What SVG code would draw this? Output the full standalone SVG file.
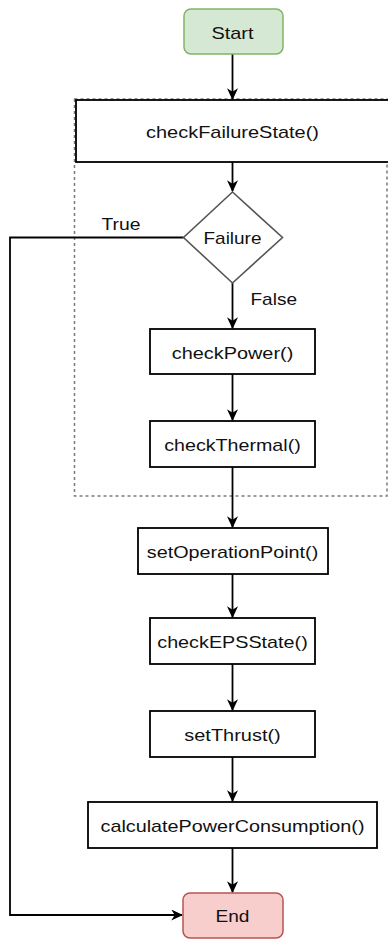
<svg xmlns="http://www.w3.org/2000/svg" width="388" height="940" viewBox="0 0 388 940">
  <style>
    .box { fill: #ffffff; stroke: #000000; stroke-width: 1.8; }
    .start { fill: #d5e8d4; stroke: #82b366; stroke-width: 1.5; }
    .end { fill: #f8cecc; stroke: #b85450; stroke-width: 1.5; }
    .dec { fill: #ffffff; stroke: #555555; stroke-width: 1.6; }
    .group { fill: none; stroke: #7a7a7a; stroke-width: 1.5; stroke-dasharray: 3 3; }
    .edge { fill: none; stroke: #000000; stroke-width: 1.8; }
    text { font-family: "Liberation Sans", Arial, sans-serif; font-size: 17px; fill: #111111; }
    .c { text-anchor: middle; }
  </style>
  <defs>
    <marker id="arrow" viewBox="0 0 10 10" refX="9" refY="5" markerWidth="12" markerHeight="11" markerUnits="userSpaceOnUse" orient="auto" preserveAspectRatio="none">
      <path d="M0,0 L10,5 L0,10 L3,5 z" fill="#000000"/>
    </marker>
  </defs>

  <!-- white page -->
  <rect x="0" y="0" width="388" height="940" fill="#ffffff"/>

  <!-- dashed container around the checks -->
  <rect id="checks-group" class="group" x="74.5" y="99" width="312.5" height="397"/>

  <g id="connectors">
    <line class="edge" x1="232.5" y1="54" x2="232.5" y2="99" marker-end="url(#arrow)"/>
    <line class="edge" x1="232.5" y1="162" x2="232.5" y2="191" marker-end="url(#arrow)"/>
    <line class="edge" x1="232.5" y1="283" x2="232.5" y2="328" marker-end="url(#arrow)"/>
    <line class="edge" x1="232.5" y1="374" x2="232.5" y2="420" marker-end="url(#arrow)"/>
    <line class="edge" x1="232.5" y1="467" x2="232.5" y2="527" marker-end="url(#arrow)"/>
    <line class="edge" x1="232.5" y1="574" x2="232.5" y2="617" marker-end="url(#arrow)"/>
    <line class="edge" x1="232.5" y1="664" x2="232.5" y2="710" marker-end="url(#arrow)"/>
    <line class="edge" x1="232.5" y1="757" x2="232.5" y2="801" marker-end="url(#arrow)"/>
    <line class="edge" x1="232.5" y1="848" x2="232.5" y2="892" marker-end="url(#arrow)"/>
    <polyline class="edge" points="183.5,237.5 10,237.5 10,915 182,915" marker-end="url(#arrow)"/>
    <text x="101.5" y="230" textLength="39" lengthAdjust="spacingAndGlyphs">True</text>
    <text x="250.5" y="305" textLength="46.5" lengthAdjust="spacingAndGlyphs">False</text>
  </g>

  <g id="start">
    <rect class="start" x="184" y="9" width="99" height="45" rx="7"/>
    <text class="c" x="232.5" y="39" textLength="42" lengthAdjust="spacingAndGlyphs">Start</text>
  </g>

  <g id="checkFailureState">
    <rect class="box" x="76" y="100" width="330" height="62"/>
    <text class="c" x="232.5" y="138" textLength="173" lengthAdjust="spacingAndGlyphs">checkFailureState()</text>
  </g>

  <g id="failure">
    <polygon class="dec" points="232.5,192 282.5,237.5 232.5,283 183.5,237.5"/>
    <text class="c" x="232.5" y="244" textLength="58" lengthAdjust="spacingAndGlyphs">Failure</text>
  </g>

  <g id="checkPower">
    <rect class="box" x="150" y="329" width="165" height="45"/>
    <text class="c" x="232.5" y="358.5" textLength="121.5" lengthAdjust="spacingAndGlyphs">checkPower()</text>
  </g>

  <g id="checkThermal">
    <rect class="box" x="150" y="421" width="165" height="46"/>
    <text class="c" x="232.5" y="450.5" textLength="136.5" lengthAdjust="spacingAndGlyphs">checkThermal()</text>
  </g>

  <g id="setOperationPoint">
    <rect class="box" x="138" y="528" width="190" height="46"/>
    <text class="c" x="232.5" y="557.5" textLength="171.5" lengthAdjust="spacingAndGlyphs">setOperationPoint()</text>
  </g>

  <g id="checkEPSState">
    <rect class="box" x="150" y="618" width="165" height="46"/>
    <text class="c" x="232.5" y="647.5" textLength="150.5" lengthAdjust="spacingAndGlyphs">checkEPSState()</text>
  </g>

  <g id="setThrust">
    <rect class="box" x="150" y="711" width="165" height="46"/>
    <text class="c" x="232.5" y="740.5" textLength="96.5" lengthAdjust="spacingAndGlyphs">setThrust()</text>
  </g>

  <g id="calculatePowerConsumption">
    <rect class="box" x="88" y="802" width="289" height="46"/>
    <text class="c" x="232.5" y="831.5" textLength="264" lengthAdjust="spacingAndGlyphs">calculatePowerConsumption()</text>
  </g>

  <g id="end">
    <rect class="end" x="183" y="893" width="100" height="45" rx="7"/>
    <text class="c" x="232.5" y="922" textLength="34" lengthAdjust="spacingAndGlyphs">End</text>
  </g>
</svg>
